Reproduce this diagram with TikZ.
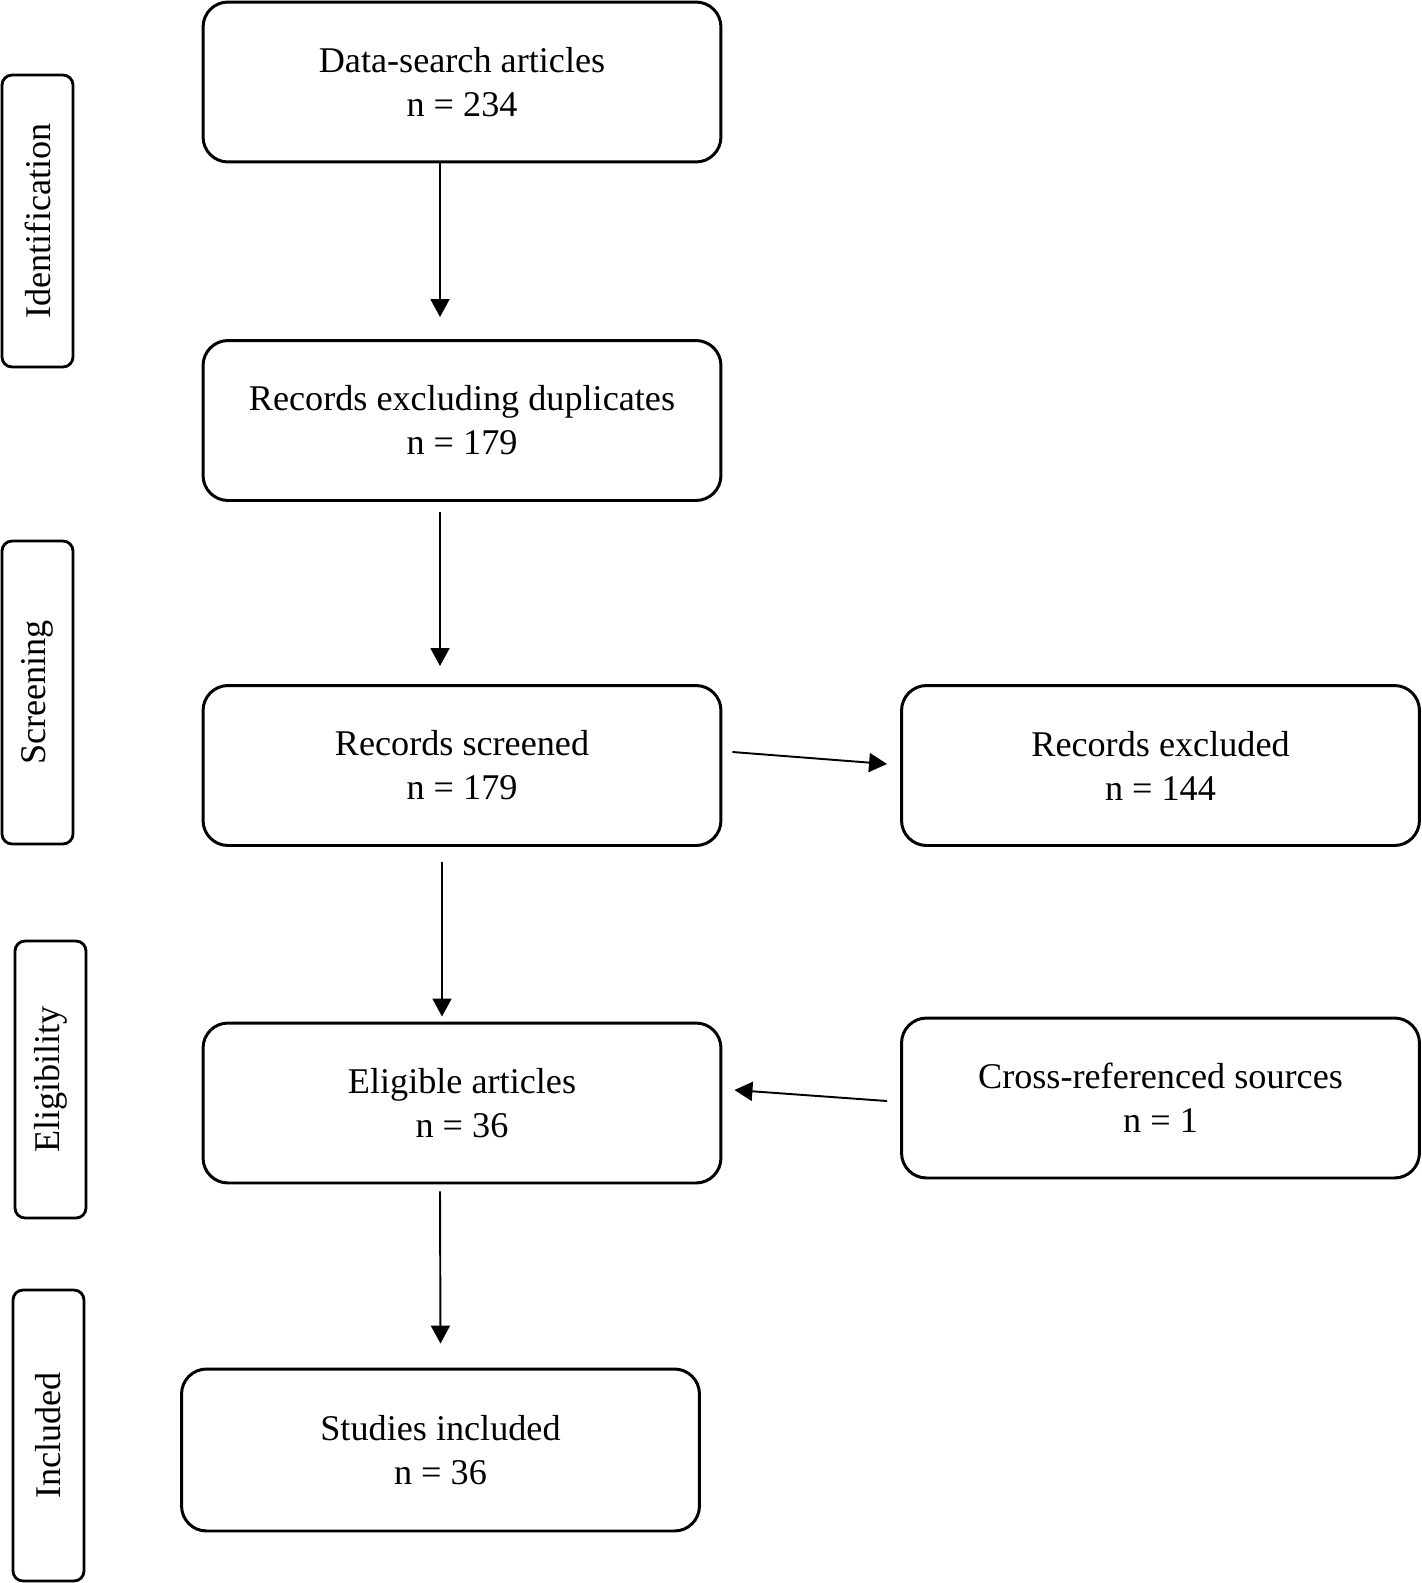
\documentclass[tikz,border=0pt]{standalone}
\usepackage{fontspec}
\setmainfont{Liberation Serif}
\usepackage{tikz}
\usetikzlibrary{positioning}
\usetikzlibrary{arrows.meta}

\begin{document}
\begin{tikzpicture}[x=0.02cm, y=-0.02cm,
    stagebox/.style={draw, line width=1.7pt, rounded corners=0.5cm, minimum width=10.36cm, minimum height=3.2cm, align=center, font=\fontsize{20.6}{25}\selectfont},
    phasebox/.style={draw, line width=1.6pt, rounded corners=0.2cm, minimum height=1.42cm, font=\fontsize{20.6}{25}\selectfont, rotate=90},
    flowarrow/.style={line width=1.1pt, -{Triangle[length=0.36cm, width=0.38cm]}}]
    %
    \useasboundingbox (0,0) rectangle (1421,1583);
    %
    \node[phasebox, minimum width=5.84cm] (ident) at (37.5,221) {Identification};
    \node[phasebox, minimum width=6.06cm] (screen) at (37.5,692.5) {Screening};
    \node[phasebox, minimum width=5.54cm] (elig) at (50.5,1079.5) {Eligibility};
    \node[phasebox, minimum width=5.82cm] (inclph) at (48.5,1435.5) {Included};
    %
    \node[stagebox] (search) at (462,82) {Data-search articles\\n = 234};
    \node[stagebox] (nodup) at (462,420.5) {Records excluding duplicates\\n = 179};
    \node[stagebox] (screened) at (462,765.5) {Records screened\\n = 179};
    \node[stagebox] (excluded) at (1160.5,765.5) {Records excluded\\n = 144};
    \node[stagebox] (eligible) at (462,1103) {Eligible articles\\n = 36};
    \node[stagebox] (crossref) at (1160.5,1098) {Cross-referenced sources\\n = 1};
    \node[stagebox, minimum height=3.24cm] (studies) at (440.5,1450) {Studies included\\n = 36};
    %
    %
    \draw[flowarrow] ([xshift=-0.44cm]search.south) -- ([xshift=-0.44cm, yshift=0.44cm]nodup.north);
    \draw[flowarrow] ([xshift=-0.44cm, yshift=-0.2cm]nodup.south) -- ([xshift=-0.44cm, yshift=0.36cm]screened.north);
    \draw[flowarrow] ([xshift=0.2cm, yshift=0.27cm]screened.east) -- ([xshift=-0.26cm, yshift=0.03cm]excluded.west);
    \draw[flowarrow] ([xshift=-0.4cm, yshift=-0.3cm]screened.south) -- ([xshift=-0.4cm, yshift=0.1cm]eligible.north);
    \draw[flowarrow] ([xshift=-0.26cm, yshift=-0.06cm]crossref.west) -- ([xshift=0.24cm, yshift=0.26cm]eligible.east);
    \draw[flowarrow] ([xshift=-0.44cm, yshift=-0.14cm]eligible.south) -- ([yshift=0.48cm]studies.north);
    %
\end{tikzpicture}
\end{document}
